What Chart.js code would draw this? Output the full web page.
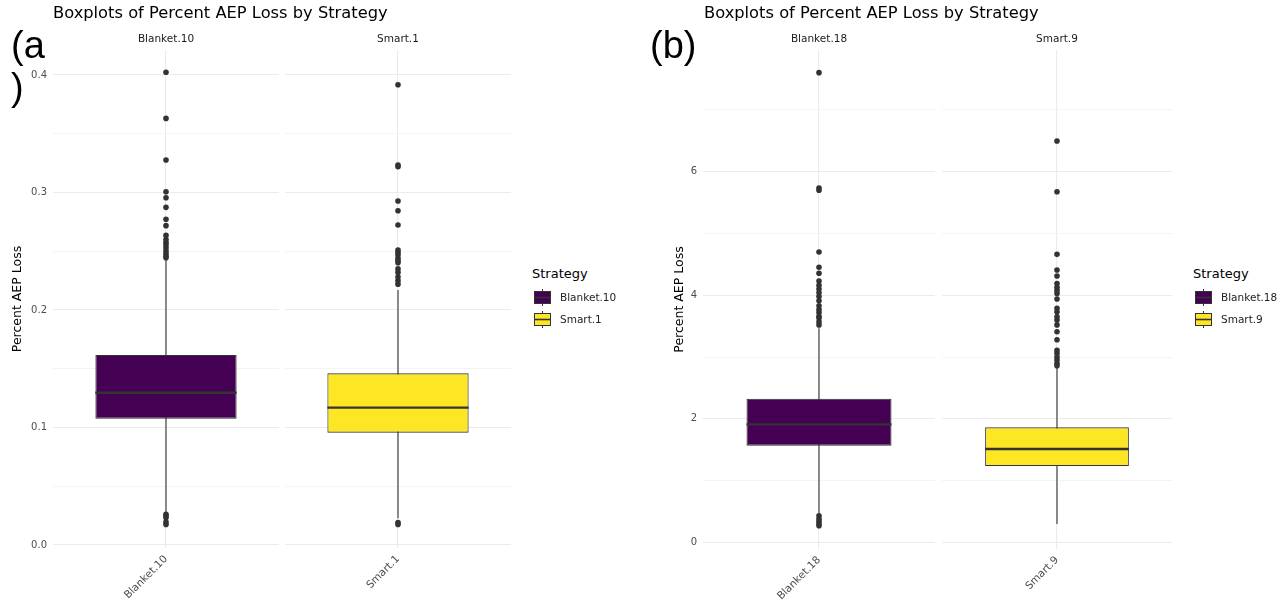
<!DOCTYPE html>
<html lang="en">
<head>
<meta charset="UTF-8" />
<title>Boxplots of Percent AEP Loss by Strategy</title>
<script src="https://cdn.jsdelivr.net/npm/chart.js@4.4.1/dist/chart.umd.min.js"></script>
<style>
  body { margin: 0; background: #fff; font-family: "DejaVu Sans", sans-serif; }
  #page { position: relative; width: 1288px; height: 604px; overflow: hidden; }
  .facet { position: absolute; top: 0; }
  .mainTitle { position: absolute; top: 3px; font-size: 16.3px; color: #000; white-space: nowrap; }
  .tag { position: absolute; font-family: "Liberation Sans", Arial, sans-serif; font-size: 38px; line-height: 42px; color: #000; }
  .legend { position: absolute; color: #222; }
  .legend .ttl { font-size: 13px; line-height: 16px; height: 16px; margin-bottom: 4px; color: #000; }
  .legend .row { display: flex; align-items: center; height: 22px; font-size: 10.5px; }
  .legend canvas { margin-left: 2px; margin-right: 9px; }
</style>
</head>
<body>
<div id="page">
  <canvas class="facet" id="a1" width="280" height="604" style="left:0px"></canvas>
  <canvas class="facet" id="a2" width="227" height="604" style="left:285px"></canvas>
  <canvas class="facet" id="b1" width="276" height="604" style="left:660px"></canvas>
  <canvas class="facet" id="b2" width="231" height="604" style="left:942px"></canvas>

  <div class="mainTitle" style="left:53px">Boxplots of Percent AEP Loss by Strategy</div>
  <div class="mainTitle" style="left:704px">Boxplots of Percent AEP Loss by Strategy</div>
  <div class="tag" style="left:11px;top:24px">(a<br>)</div>
  <div class="tag" style="left:650px;top:24px">(b)</div>

  <div class="legend" id="legA" style="left:532px;top:266px"></div>
  <div class="legend" id="legB" style="left:1193px;top:266px"></div>
</div>

<script>
// ---- panel (a) ----
const aStrategies = ['Blanket.10', 'Smart.1'];
const aQ1 = [0.1075, 0.0956];
const aMedian = [0.1296, 0.1169];
const aQ3 = [0.1617, 0.1461];
const aWhiskerLow = [0.027, 0.0227];
const aWhiskerHigh = [0.2434, 0.217];
const aOutliers = [
  [0.4023, 0.3631, 0.3277, 0.3007, 0.2956, 0.2874, 0.2772, 0.2718, 0.2635, 0.2600, 0.2575,
   0.2555, 0.2530, 0.2505, 0.2480, 0.2460, 0.2445, 0.0262, 0.0248, 0.0232, 0.0195, 0.0175],
  [0.3917, 0.3234, 0.3220, 0.2928, 0.2845, 0.2723, 0.2510, 0.2490, 0.2468, 0.2440, 0.2420,
   0.2403, 0.2350, 0.2320, 0.2280, 0.2250, 0.2220, 0.0192, 0.0175]
];
const aMajorTicks = [0, 0.1, 0.2, 0.3, 0.4];
const aMinorTicks = [0.05, 0.15, 0.25, 0.35];

// ---- panel (b) ----
const bStrategies = ['Blanket.18', 'Smart.9'];
const bQ1 = [1.564, 1.236];
const bMedian = [1.910, 1.511];
const bQ3 = [2.325, 1.862];
const bWhiskerLow = [0.47, 0.296];
const bWhiskerHigh = [3.464, 2.84];
const bOutliers = [
  [7.603, 5.735, 5.700, 4.700, 4.452, 4.355, 4.23, 4.16, 4.10, 4.04, 3.98, 3.91, 3.83, 3.77,
   3.72, 3.66, 3.63, 3.57, 3.52, 0.43, 0.38, 0.34, 0.30, 0.27],
  [6.497, 5.676, 4.662, 4.408, 4.311, 4.19, 4.13, 4.08, 4.03, 3.94, 3.79, 3.73, 3.65, 3.60,
   3.52, 3.41, 3.28, 3.11, 3.06, 3.00, 2.95, 2.90, 2.86]
];
const bMajorTicks = [0, 2, 4, 6];
const bMinorTicks = [1, 3, 5, 7];

const fillColors = ['#440154', '#FDE725'];
const lineColor = '#333333';
const BOX_HALF = 0.375;   // box is 0.75 wide on a -0.6..0.6 facet

Chart.defaults.font.family = '"DejaVu Sans", sans-serif';

function facetDatasets(q1, med, q3, lo, hi, out, fill) {
  return [
    { type: 'scatter', data: out.map(v => ({ x: 0, y: v })), pointRadius: 2.8,
      pointBackgroundColor: lineColor, pointBorderWidth: 0, order: 0 },
    { type: 'line', data: [{ x: -BOX_HALF, y: med }, { x: BOX_HALF, y: med }],
      borderColor: lineColor, borderWidth: 2.4, pointRadius: 0, order: 1 },
    { type: 'bar', data: [{ x: 0, y: [q1, q3] }], backgroundColor: fill, borderColor: lineColor,
      borderWidth: 1.1, borderSkipped: false, categoryPercentage: 1, barPercentage: BOX_HALF * 2 / 1.2, order: 2 },
    { type: 'line', data: [{ x: 0, y: lo }, { x: 0, y: hi }],
      borderColor: lineColor, borderWidth: 1.1, pointRadius: 0, order: 3 }
  ];
}

function makeFacet(id, name, ds, yMin, yMax, major, minor, fmt, axisWidth, showAxis, titlePad, xHeight) {
  const allTicks = major.concat(minor).sort((p, q) => p - q);
  new Chart(document.getElementById(id), {
    type: 'scatter',
    data: { datasets: ds },
    options: {
      responsive: false,
      animation: false,
      events: [],
      layout: { autoPadding: false, padding: { top: 0, left: 0, right: 1, bottom: 0 } },
      plugins: {
        legend: { display: false },
        tooltip: { enabled: false },
        title: {
          display: true, text: name, fullSize: false, color: '#1a1a1a',
          font: { size: 10.5, weight: 'normal' }, padding: { top: 32.7, bottom: 4.7 }
        }
      },
      scales: {
        x: {
          type: 'linear', min: -0.6, max: 0.6, offset: false,
          afterBuildTicks: s => { s.ticks = [{ value: 0 }]; },
          afterFit: s => { s.height = xHeight; },
          grid: { color: '#ebebeb', lineWidth: 1.1, drawTicks: false, offset: false },
          border: { display: false },
          ticks: {
            autoSkip: false, minRotation: 45, maxRotation: 45, padding: 5,
            color: '#4d4d4d', font: { size: 10.5 }, callback: () => name
          }
        },
        y: {
          min: yMin, max: yMax,
          afterBuildTicks: s => { s.ticks = allTicks.map(v => ({ value: v })); },
          afterFit: s => { s.width = axisWidth; },
          grid: {
            drawTicks: false,
            color: c => minor.includes(c.tick.value) ? '#f3f3f3' : '#ebebeb',
            lineWidth: c => minor.includes(c.tick.value) ? 0.9 : 1.1
          },
          border: { display: false },
          ticks: {
            display: showAxis, autoSkip: false, padding: 6, color: '#4d4d4d', font: { size: 10 },
            callback: v => major.includes(v) ? fmt(v) : ''
          },
          title: {
            display: showAxis, text: 'Percent AEP Loss', color: '#000',
            font: { size: 12.5 }, padding: { top: titlePad, bottom: 0 }
          }
        }
      }
    }
  });
}

const fmtA = v => v.toFixed(1);
const fmtB = v => String(v);

makeFacet('a1', aStrategies[0],
  facetDatasets(aQ1[0], aMedian[0], aQ3[0], aWhiskerLow[0], aWhiskerHigh[0], aOutliers[0], fillColors[0]),
  -0.00255, 0.4213, aMajorTicks, aMinorTicks, fmtA, 53, true, 10.5, 56);
makeFacet('a2', aStrategies[1],
  facetDatasets(aQ1[1], aMedian[1], aQ3[1], aWhiskerLow[1], aWhiskerHigh[1], aOutliers[1], fillColors[1]),
  -0.00255, 0.4213, aMajorTicks, aMinorTicks, fmtA, 0, false, 0, 56);
makeFacet('b1', bStrategies[0],
  facetDatasets(bQ1[0], bMedian[0], bQ3[0], bWhiskerLow[0], bWhiskerHigh[0], bOutliers[0], fillColors[0]),
  -0.108, 7.97, bMajorTicks, bMinorTicks, fmtB, 43, true, 12.5, 55);
makeFacet('b2', bStrategies[1],
  facetDatasets(bQ1[1], bMedian[1], bQ3[1], bWhiskerLow[1], bWhiskerHigh[1], bOutliers[1], fillColors[1]),
  -0.108, 7.97, bMajorTicks, bMinorTicks, fmtB, 0, false, 0, 55);

// legend: small boxplot key drawn next to each strategy name
function drawKey(fill) {
  const cv = document.createElement('canvas');
  cv.width = 17; cv.height = 17;
  const c = cv.getContext('2d');
  c.strokeStyle = lineColor; c.lineWidth = 1;
  c.beginPath(); c.moveTo(8.5, 0); c.lineTo(8.5, 3); c.moveTo(8.5, 14); c.lineTo(8.5, 17); c.stroke();
  c.fillStyle = fill;
  c.fillRect(0.5, 2.5, 16, 12);
  c.strokeRect(0.5, 2.5, 16, 12);
  c.lineWidth = 1.6;
  c.beginPath(); c.moveTo(0.5, 8.5); c.lineTo(16.5, 8.5); c.stroke();
  return cv;
}

function buildLegend(id, names) {
  const box = document.getElementById(id);
  const t = document.createElement('div');
  t.className = 'ttl'; t.textContent = 'Strategy';
  box.appendChild(t);
  names.forEach((n, i) => {
    const row = document.createElement('div');
    row.className = 'row';
    row.appendChild(drawKey(fillColors[i]));
    const s = document.createElement('span');
    s.textContent = n;
    row.appendChild(s);
    box.appendChild(row);
  });
}
buildLegend('legA', aStrategies);
buildLegend('legB', bStrategies);
</script>
</body>
</html>
